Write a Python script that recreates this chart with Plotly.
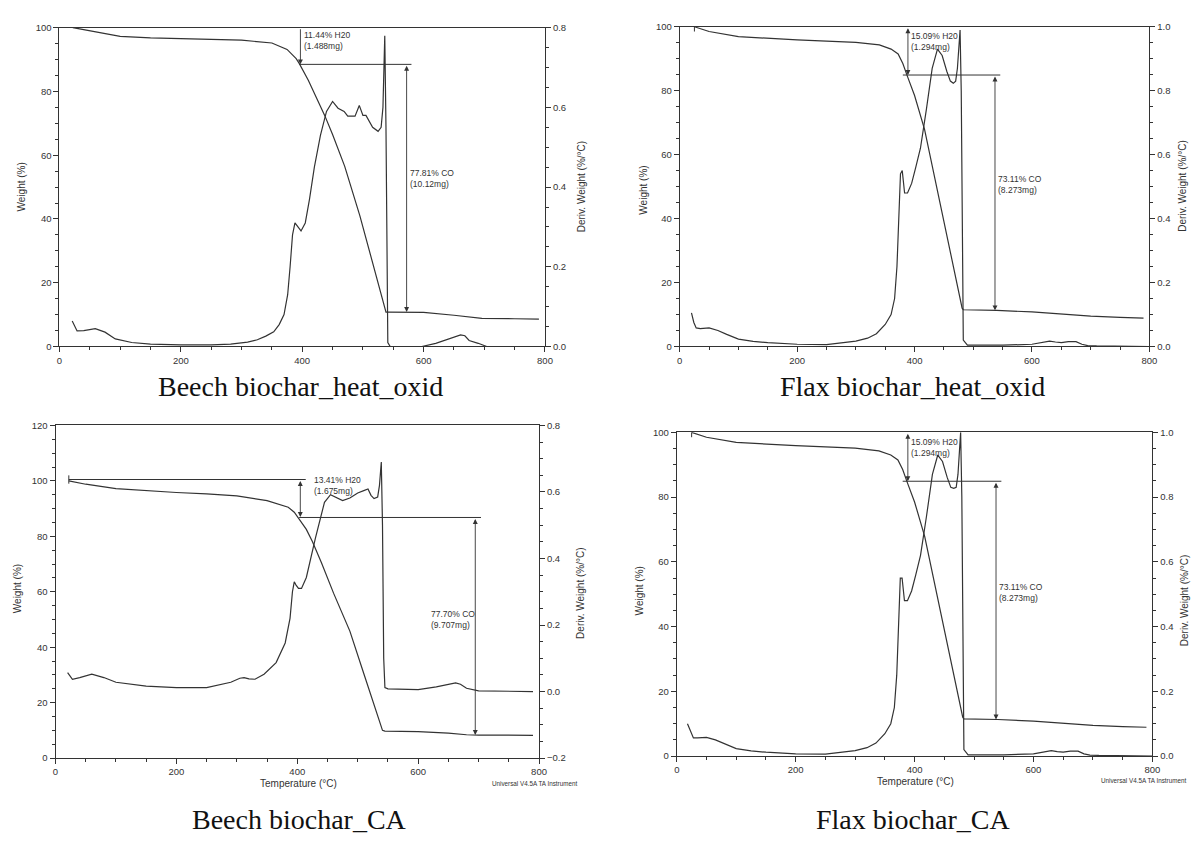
import plotly.graph_objects as go

W, H = 1200, 843
LC = "#333333"

# ---------------- data ----------------
# Beech biochar_heat_oxid
bh_T_w = [22, 50, 100, 150, 200, 250, 300, 350, 375, 390, 395, 410, 425, 437, 450, 470, 495, 515, 538, 541, 587, 600, 650, 696, 750, 790]
bh_w = [100, 99.0, 97.3, 96.8, 96.6, 96.3, 96.1, 95.2, 93.2, 90.3, 88.8, 83.5, 77.5, 72.5, 66.5, 56.5, 41.0, 27.0, 10.8, 10.8, 10.8, 10.7, 9.8, 8.8, 8.7, 8.6]
bh_T_d = [21, 29, 40, 59, 75, 92, 119, 150, 200, 250, 282, 310, 326, 340, 353, 362, 370, 376, 380, 384, 388, 393, 398, 405, 412, 420, 430, 440, 450, 459, 469, 475, 487, 494, 500, 505, 509, 516, 525, 530, 533, 536, 538, 540, 541, 545, 597, 620, 645, 661, 668, 675, 690, 704, 750, 790]
bh_d = [0.064, 0.039, 0.040, 0.045, 0.036, 0.019, 0.010, 0.006, 0.004, 0.004, 0.006, 0.011, 0.017, 0.026, 0.037, 0.055, 0.080, 0.13, 0.20, 0.28, 0.31, 0.30, 0.29, 0.31, 0.37, 0.45, 0.53, 0.59, 0.615, 0.598, 0.59, 0.578, 0.578, 0.605, 0.58, 0.58, 0.57, 0.55, 0.54, 0.55, 0.60, 0.78, 0.55, 0.20, 0.01, 0.0, 0.0, 0.008, 0.02, 0.029, 0.027, 0.015, 0.008, 0.0, 0.0, 0.0]

# Flax biochar_heat_oxid
fh_T_w = [25, 50, 100, 150, 200, 250, 300, 340, 360, 372, 380, 388, 400, 417, 430, 450, 470, 481, 483, 540, 600, 650, 700, 750, 790]
fh_w = [100, 98.5, 96.9, 96.3, 95.9, 95.5, 95.1, 94.3, 93.0, 91.5, 88.5, 84.4, 78.5, 67.9, 56.6, 39.2, 21.8, 12.0, 11.5, 11.3, 10.8, 10.1, 9.5, 9.1, 8.9]
fh_T_d = [20, 24, 28, 35, 50, 65, 80, 100, 125, 150, 200, 250, 300, 320, 335, 350, 360, 366, 370, 373, 376, 379, 383, 388, 395, 402, 410, 420, 430, 439, 447, 455, 461, 466, 470, 473, 475, 477.5, 479.5, 481, 483, 490, 550, 600, 615, 630, 640, 650, 662, 675, 685, 695, 710, 750, 800]
fh_d = [0.105, 0.075, 0.058, 0.056, 0.058, 0.050, 0.038, 0.023, 0.016, 0.012, 0.007, 0.006, 0.017, 0.026, 0.040, 0.069, 0.10, 0.15, 0.25, 0.40, 0.54, 0.55, 0.48, 0.48, 0.51, 0.56, 0.62, 0.74, 0.87, 0.93, 0.91, 0.86, 0.83, 0.823, 0.83, 0.87, 0.93, 0.99, 0.80, 0.30, 0.02, 0.004, 0.004, 0.007, 0.012, 0.017, 0.014, 0.012, 0.015, 0.015, 0.007, 0.003, 0.002, 0.001, 0.0]

# Beech biochar_CA
bc_T_w = [22, 50, 100, 150, 200, 250, 300, 350, 385, 395, 405, 415, 425, 440, 460, 487, 510, 530, 541, 545, 600, 650, 680, 700, 750, 790]
bc_w = [100, 98.8, 97.2, 96.4, 95.8, 95.3, 94.6, 92.9, 90.5, 88.7, 85.8, 82.5, 78.1, 70.5, 59.5, 45.8, 30.5, 17.0, 10.0, 9.7, 9.5, 9.0, 8.4, 8.3, 8.2, 8.2]
bc_T_d = [20, 28, 40, 60, 80, 100, 150, 200, 250, 290, 305, 312, 320, 330, 345, 365, 380, 388, 392, 395, 398, 402, 407, 415, 430, 445, 455, 465, 475, 487, 500, 510, 517, 522, 527, 533, 536, 539, 541, 543, 545, 550, 600, 630, 650, 662, 670, 680, 700, 750, 790]
bc_d = [0.057, 0.037, 0.042, 0.052, 0.042, 0.028, 0.016, 0.012, 0.012, 0.028, 0.040, 0.042, 0.038, 0.037, 0.052, 0.087, 0.146, 0.22, 0.30, 0.33, 0.32, 0.31, 0.31, 0.343, 0.461, 0.569, 0.592, 0.584, 0.574, 0.582, 0.597, 0.604, 0.609, 0.59, 0.58, 0.585, 0.62, 0.69, 0.50, 0.10, 0.012, 0.008, 0.006, 0.014, 0.022, 0.026, 0.022, 0.010, 0.002, 0.0, 0.0]

# Flax biochar_CA
fc_T_w = [25, 50, 100, 150, 200, 250, 300, 340, 360, 372, 380, 388, 400, 417, 430, 450, 470, 481, 483, 540, 600, 650, 700, 750, 790]
fc_w = [100, 98.5, 96.9, 96.3, 95.9, 95.5, 95.1, 94.3, 93.0, 91.5, 88.5, 84.4, 78.5, 67.9, 56.6, 39.2, 21.8, 12.0, 11.5, 11.3, 10.8, 10.1, 9.5, 9.1, 8.9]
fc_T_d = [18, 24, 28, 35, 50, 65, 80, 100, 125, 150, 200, 250, 300, 320, 335, 350, 360, 366, 370, 373, 376, 379, 383, 388, 395, 402, 410, 420, 430, 439, 447, 455, 461, 466, 470, 473, 475, 477.5, 479.5, 481, 483, 490, 550, 600, 615, 630, 640, 650, 662, 675, 685, 695, 710, 750, 800]
fc_d = [0.100, 0.070, 0.056, 0.056, 0.058, 0.050, 0.038, 0.023, 0.016, 0.012, 0.007, 0.006, 0.017, 0.026, 0.040, 0.069, 0.10, 0.15, 0.25, 0.40, 0.55, 0.55, 0.48, 0.48, 0.51, 0.56, 0.62, 0.74, 0.87, 0.93, 0.91, 0.86, 0.83, 0.827, 0.83, 0.87, 0.93, 1.0, 0.80, 0.30, 0.02, 0.004, 0.004, 0.007, 0.012, 0.017, 0.014, 0.012, 0.015, 0.015, 0.007, 0.003, 0.002, 0.001, 0.0]

captions = ["Beech biochar_heat_oxid", "Flax biochar_heat_oxid", "Beech biochar_CA", "Flax biochar_CA"]
x_ticks = [0, 200, 400, 600, 800]

# ---------------- layout geometry (pixels) ----------------
panels = [
    dict(px=(57, 547), py=(22, 345), yl=(0, 100), yr=(0, 0.8), w=(bh_T_w, bh_w), d=(bh_T_d, bh_d),
         cap=(300, 386), wl=(19, 183), dl=(584, 183)),
    dict(px=(683, 1157), py=(21, 345), yl=(0, 100), yr=(0, 1.0), w=(fh_T_w, fh_w), d=(fh_T_d, fh_d),
         cap=(918, 386), wl=(646, 187), dl=(1191, 183)),
    dict(px=(53, 541), py=(425, 762), yl=(0, 120), yr=(-0.2, 0.8), w=(bc_T_w, bc_w), d=(bc_T_d, bc_d),
         cap=(299, 824), wl=(14, 590), dl=(583, 595)),
    dict(px=(680, 1160), py=(432, 760), yl=(0, 100), yr=(0, 1.0), w=(fc_T_w, fc_w), d=(fc_T_d, fc_d),
         cap=(918, 824), wl=(642, 593), dl=(1192, 603)),
]

TICKFONT = dict(family="Liberation Sans, Arial", size=9.5, color="#333")
fig = go.Figure()
layout = dict(width=W, height=H, margin=dict(l=0, r=0, t=0, b=0),
              paper_bgcolor="white", plot_bgcolor="white", showlegend=False)
annotations = []
shapes = []

for i, p in enumerate(panels):
    n = i + 1
    xa = "xaxis" if n == 1 else f"xaxis{n}"
    xr = "x" if n == 1 else f"x{n}"
    yl_i = 2 * n - 1
    yr_i = 2 * n
    yla = "yaxis" if yl_i == 1 else f"yaxis{yl_i}"
    ylr = "y" if yl_i == 1 else f"y{yl_i}"
    yra = f"yaxis{yr_i}"
    yrr = f"y{yr_i}"
    dx = [p["px"][0] / W, p["px"][1] / W]
    dy = [1 - p["py"][1] / H, 1 - p["py"][0] / H]
    layout[xa] = dict(domain=dx, anchor=ylr, range=[0, 800], tickvals=x_ticks,
                      showline=True, linecolor=LC, linewidth=1, mirror=True,
                      ticks="outside", ticklen=5, tickcolor=LC, tickfont=TICKFONT,
                      minor=dict(dtick=50, ticks="outside", ticklen=3, tickcolor=LC),
                      showgrid=False, zeroline=False, fixedrange=True)
    ylo, yhi = p["yl"]
    layout[yla] = dict(domain=dy, anchor=xr, range=[ylo, yhi], dtick=20,
                       showline=True, linecolor=LC, linewidth=1,
                       ticks="outside", ticklen=5, tickcolor=LC, tickfont=TICKFONT,
                       minor=dict(dtick=5, ticks="outside", ticklen=3, tickcolor=LC),
                       showgrid=False, zeroline=False, fixedrange=True)
    rlo, rhi = p["yr"]
    layout[yra] = dict(overlaying=ylr, anchor=xr, side="right", range=[rlo, rhi], dtick=0.2,
                       tickformat=".1f", showline=True, linecolor=LC, linewidth=1,
                       ticks="outside", ticklen=5, tickcolor=LC, tickfont=TICKFONT,
                       minor=dict(dtick=0.05, ticks="outside", ticklen=3, tickcolor=LC),
                       showgrid=False, zeroline=False, fixedrange=True)
    fig.add_trace(go.Scatter(x=p["w"][0], y=p["w"][1], mode="lines", xaxis=xr, yaxis=ylr,
                             line=dict(color=LC, width=1.2), hoverinfo="skip"))
    fig.add_trace(go.Scatter(x=p["d"][0], y=p["d"][1], mode="lines", xaxis=xr, yaxis=yrr,
                             line=dict(color=LC, width=1.2), hoverinfo="skip"))
    # captions and axis titles
    annotations.append(dict(text=captions[i], xref="paper", yref="paper",
                            x=p["cap"][0] / W, y=1 - p["cap"][1] / H, showarrow=False,
                            xanchor="center", yanchor="middle",
                            font=dict(family="Liberation Serif, serif", size=28, color="#111")))
    annotations.append(dict(text="Weight (%)", xref="paper", yref="paper", textangle=-90,
                            x=p["wl"][0] / W, y=1 - p["wl"][1] / H, showarrow=False,
                            xanchor="center", yanchor="middle",
                            font=dict(family="Liberation Sans, Arial", size=10, color="#333")))
    annotations.append(dict(text="Deriv. Weight (%/°C)", xref="paper", yref="paper", textangle=-90,
                            x=p["dl"][0] / W, y=1 - p["dl"][1] / H, showarrow=False,
                            xanchor="center", yanchor="middle",
                            font=dict(family="Liberation Sans, Arial", size=10, color="#333")))
    p["xr"], p["ylr"] = xr, ylr

# Temperature labels and instrument stamp
for (cx, cy, ux, uy) in [(298, 788, 492, 788), (921, 786, 1106, 785)]:
    annotations.append(dict(text="Temperature (°C)", xref="paper", yref="paper",
                            x=cx / W, y=1 - cy / H, showarrow=False, xanchor="center", yanchor="middle",
                            font=dict(family="Liberation Sans, Arial", size=10, color="#333")))
    annotations.append(dict(text="Universal V4.5A TA Instrument", xref="paper", yref="paper",
                            x=ux / W, y=1 - uy / H, showarrow=False, xanchor="left", yanchor="middle",
                            font=dict(family="Liberation Sans, Arial", size=6.3, color="#333")))

TXT = dict(family="Liberation Sans, Arial", size=8.5, color="#333")


def arrow(p, x, y_from, y_to, both):
    annotations.append(dict(text="", xref=p["xr"], yref=p["ylr"], axref=p["xr"], ayref=p["ylr"],
                            x=x, y=y_to, ax=x, ay=y_from, showarrow=True,
                            arrowhead=2, arrowsize=1.1, arrowwidth=0.9, arrowcolor=LC,
                            arrowside="end+start" if both else "end", standoff=0, startstandoff=0))


def hline(p, x0, x1, y):
    shapes.append(dict(type="line", xref=p["xr"], yref=p["ylr"], x0=x0, x1=x1, y0=y, y1=y,
                       line=dict(color=LC, width=1)))


def vtick(p, x, y0, y1):
    shapes.append(dict(type="line", xref=p["xr"], yref=p["ylr"], x0=x, x1=x, y0=y0, y1=y1,
                       line=dict(color=LC, width=1)))


def label(p, x, y, text):
    annotations.append(dict(text=text, xref=p["xr"], yref=p["ylr"], x=x, y=y, showarrow=False,
                            xanchor="left", yanchor="top", align="left", font=TXT))


# Panel 1
P = panels[0]
arrow(P, 397, 100, 88.5, False)
hline(P, 395, 580, 88.5)
arrow(P, 572, 88.5, 10.8, True)
label(P, 399, 99.8, "11.44% H20<br>(1.488mg)")
label(P, 575, 56.5, "77.81% CO<br>(10.12mg)")

# Panel 2
P = panels[1]
vtick(P, 25, 98.5, 100)
arrow(P, 388.7, 100, 84.9, True)
hline(P, 380, 546, 84.9)
arrow(P, 537, 84.9, 11.3, True)
label(P, 391, 99.2, "15.09% H20<br>(1.294mg)")
label(P, 539, 54.5, "73.11% CO<br>(8.273mg)")

# Panel 3
P = panels[2]
vtick(P, 22, 99, 102)
hline(P, 22, 414, 100.5)
arrow(P, 405, 100.5, 87, True)
hline(P, 403, 704, 86.8)
arrow(P, 694.5, 86.8, 8.3, True)
label(P, 425, 103, "13.41% H20<br>(1.675mg)")
label(P, 618, 54.5, "77.70% CO<br>(9.707mg)")

# Panel 4
P = panels[3]
vtick(P, 25, 98.5, 100)
arrow(P, 388.7, 100, 84.9, True)
hline(P, 380, 546, 84.9)
arrow(P, 537, 84.9, 11.3, True)
label(P, 391, 99.2, "15.09% H20<br>(1.294mg)")
label(P, 539, 54.5, "73.11% CO<br>(8.273mg)")

layout["annotations"] = annotations
layout["shapes"] = shapes
fig.update_layout(**layout)
fig.write_html("out.html", config={"displayModeBar": False},
               post_script="document.body.style.margin='0';")
